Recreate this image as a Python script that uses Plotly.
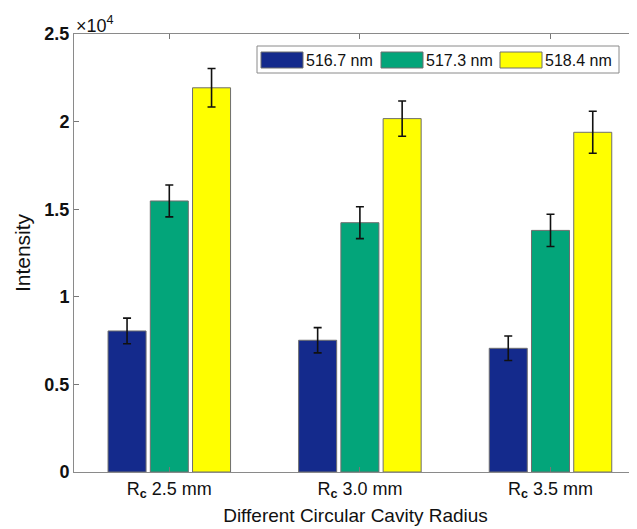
import plotly.graph_objects as go

categories = ["R<sub><b>c</b></sub> 2.5 mm", "R<sub><b>c</b></sub> 3.0 mm", "R<sub><b>c</b></sub> 3.5 mm"]
series_names = ["516.7 nm", "517.3 nm", "518.4 nm"]
vals_5167 = [8050, 7520, 7060]
vals_5173 = [15470, 14230, 13790]
vals_5184 = [21930, 20170, 19390]
err_5167 = [730, 720, 700]
err_5173 = [910, 910, 920]
err_5184 = [1100, 1010, 1200]
colors = ["#142a8c", "#03a57a", "#ffff00"]
ytick_vals = [0, 5000, 10000, 15000, 20000, 25000]
ytick_text = ["<b>0</b>", "<b>0.5</b>", "<b>1</b>", "<b>1.5</b>", "<b>2</b>", "<b>2.5</b>"]

OFF = 8  # default page body margin
W, H = 637 - OFF, 529 - OFF
L, R, T, B = 74 - OFF, 0, 34 - OFF, 57
pw, ph = W - L - R, H - T - B

def px(x):
    return (x - OFF - L) / pw

def py(y):
    return (H + OFF - B - y) / ph

values = [vals_5167, vals_5173, vals_5184]
errors = [err_5167, err_5173, err_5184]
xpos = [1, 2, 3]

fig = go.Figure()
for name, v, e, c in zip(series_names, values, errors, colors):
    fig.add_trace(go.Bar(
        x=xpos, y=v, name=name,
        marker=dict(color=c, line=dict(color="#6e6e6e", width=1)),
        error_y=dict(type="data", array=e, color="#111111", thickness=1.6, width=4),
        showlegend=False,
    ))

font = "Liberation Sans, Arial, sans-serif"
fig.update_layout(
    width=W, height=H,
    margin=dict(l=L, r=R, t=T, b=B, pad=0),
    paper_bgcolor="white", plot_bgcolor="white",
    barmode="group", bargap=0.335, bargroupgap=0.1,
    font=dict(family=font, color="#111111"),
    xaxis=dict(
        range=[0.5, 0.5 + pw / 190.6],
        tickvals=xpos, ticktext=categories,
        ticks="inside", ticklen=5, tickcolor="#777777",
        showline=True, linecolor="#8a8a8a", linewidth=1, mirror="allticks",
        showgrid=False, zeroline=False,
        tickfont=dict(size=18, family=font, color="#111111"),
        title=dict(text="Different Circular Cavity Radius", font=dict(size=19, family=font, color="#111111"), standoff=8),
    ),
    yaxis=dict(
        range=[0, 25000],
        tickvals=ytick_vals, ticktext=ytick_text,
        ticks="inside", ticklen=5, tickcolor="#777777",
        showline=True, linecolor="#8a8a8a", linewidth=1,
        showgrid=False, zeroline=False,
        tickfont=dict(size=18, family=font, color="#111111"),
        title=dict(text="Intensity", font=dict(size=21, family=font, color="#111111"), standoff=8),
    ),
)

# exponent label
fig.add_annotation(x=px(74), y=py(24), xref="paper", yref="paper", text="×10<sup>4</sup>",
                   showarrow=False, xanchor="left", yanchor="middle",
                   font=dict(size=18, family=font, color="#111111"))

# custom legend with wide swatches
fig.add_shape(type="rect", xref="paper", yref="paper",
              x0=px(257), x1=px(619), y0=py(73), y1=py(46),
              line=dict(color="#8a8a8a", width=1), fillcolor="white")
sw_x = [261, 381, 500]
for name, c, sx in zip(series_names, colors, sw_x):
    fig.add_shape(type="rect", xref="paper", yref="paper",
                  x0=px(sx), x1=px(sx + 42), y0=py(68), y1=py(52),
                  line=dict(color="#6e6e6e", width=1), fillcolor=c)
    fig.add_annotation(x=px(sx + 43), y=py(60), xref="paper", yref="paper", text=name,
                       showarrow=False, xanchor="left", yanchor="middle",
                       font=dict(size=16, family=font, color="#111111"))

fig.write_html("out.html")
